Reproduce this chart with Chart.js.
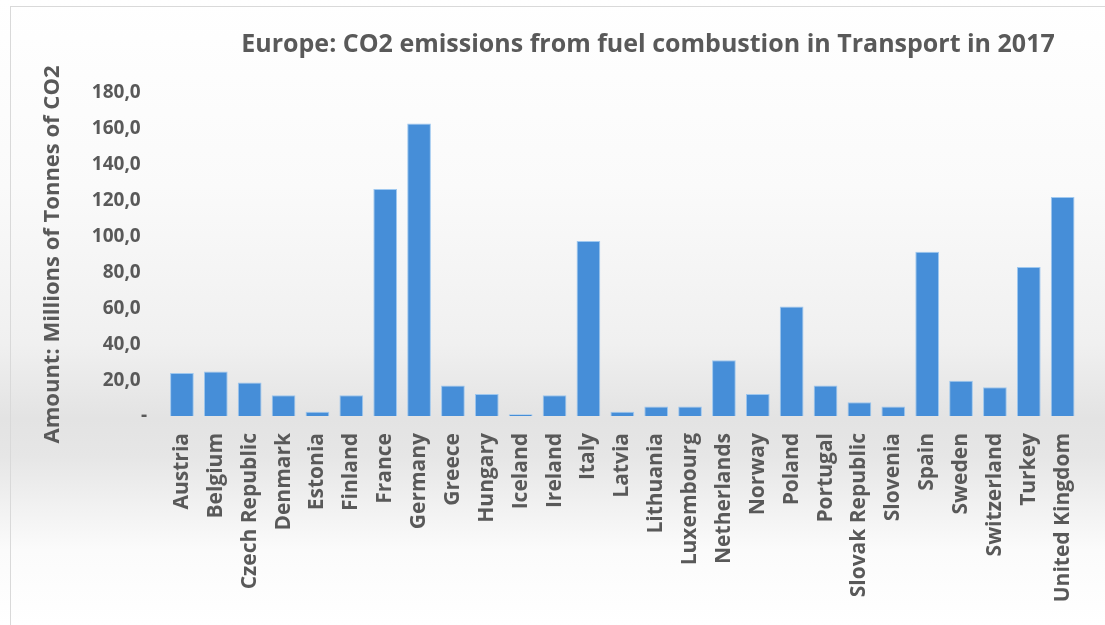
<!DOCTYPE html>
<html>
<head>
<meta charset="utf-8">
<title>Europe: CO2 emissions from fuel combustion in Transport in 2017</title>
<script src="https://cdn.jsdelivr.net/npm/chart.js@4/dist/chart.umd.min.js"></script>
<style>
  html, body { margin: 0; padding: 0; background: #ffffff; }
  #wrap { width: 1105px; height: 625px; position: relative; }
</style>
</head>
<body>
<div id="wrap"><canvas id="co2Chart" width="1105" height="625"></canvas></div>
<script>
const countries = [
    'Austria', 'Belgium', 'Czech Republic', 'Denmark', 'Estonia', 'Finland', 'France',
    'Germany', 'Greece', 'Hungary', 'Iceland', 'Ireland', 'Italy', 'Latvia', 'Lithuania',
    'Luxembourg', 'Netherlands', 'Norway', 'Poland', 'Portugal', 'Slovak Republic',
    'Slovenia', 'Spain', 'Sweden', 'Switzerland', 'Turkey', 'United Kingdom'
];
// Mt CO2 from transport, 2017
const emissions = [
    24.0, 24.8, 18.6, 11.6, 2.4, 11.6, 126.5,
    163.0, 17.0, 12.3, 1.0, 11.6, 97.5, 2.4, 5.3,
    5.3, 31.0, 12.3, 61.0, 17.0, 7.6,
    5.3, 91.5, 19.6, 16.0, 83.0, 122.0
];
const yTicks = [0, 20, 40, 60, 80, 100, 120, 140, 160, 180];

const chartTitle = 'Europe: CO2 emissions from fuel combustion in Transport in 2017';
const yTitle = 'Amount: Millions of Tonnes of CO2';
const textColor = '#595959';
const fontFamily = '"Open Sans", "DejaVu Sans", sans-serif';

// grey fade behind the plot + thin frame + title
const backdrop = {
    id: 'backdrop',
    beforeDraw(chart) {
        const ctx = chart.ctx;
        const h = chart.height;
        const g = ctx.createLinearGradient(0, 0, 0, h);
        g.addColorStop(0, '#ffffff');
        g.addColorStop(0.30, '#fafafa');
        g.addColorStop(0.55, '#f0f0f0');
        g.addColorStop(0.67, '#e3e3e3');
        g.addColorStop(0.73, '#e6e6e6');
        g.addColorStop(0.88, '#fbfbfb');
        g.addColorStop(1, '#ffffff');
        ctx.save();
        ctx.fillStyle = g;
        ctx.fillRect(0, 0, chart.width, h);
        ctx.strokeStyle = '#d9d9d9';
        ctx.lineWidth = 1;
        ctx.strokeRect(10.5, 6.5, chart.width + 20, h + 20);
        ctx.restore();
    },
    afterDraw(chart) {
        const ctx = chart.ctx;
        ctx.save();
        ctx.font = 'bold 25px ' + fontFamily;
        ctx.fillStyle = textColor;
        ctx.textAlign = 'center';
        ctx.textBaseline = 'middle';
        ctx.fillText(chartTitle, 648, 45);
        ctx.restore();
    }
};

const ctx = document.getElementById('co2Chart').getContext('2d');
new Chart(ctx, {
    type: 'bar',
    data: {
        labels: countries,
        datasets: [{
            label: yTitle,
            data: emissions,
            backgroundColor: 'rgb(70, 142, 216)',
            borderColor: 'rgba(150, 195, 238, 0.9)',
            borderWidth: 1,
            categoryPercentage: 1.0,
            barPercentage: 0.7
        }]
    },
    options: {
        responsive: false,
        animation: false,
        layout: { padding: { top: 93, right: 8, left: 0, bottom: 0 } },
        plugins: {
            legend: { display: false },
            tooltip: { enabled: false },
            title: { display: false }
        },
        scales: {
            x: {
                grid: { display: false, drawTicks: false },
                border: { display: false },
                ticks: {
                    color: textColor,
                    font: { family: fontFamily, size: 21, weight: 'bold' },
                    minRotation: 90,
                    maxRotation: 90,
                    autoSkip: false,
                    padding: 17
                },
                afterFit(scale) { scale.height = 625 - 416; }
            },
            y: {
                min: 0,
                max: 180,
                grid: { display: false, drawTicks: false },
                border: { display: false },
                afterBuildTicks(scale) {
                    scale.ticks = yTicks.map(v => ({ value: v }));
                },
                ticks: {
                    color: textColor,
                    font: { family: fontFamily, size: 19, weight: 'bold' },
                    padding: 18,
                    callback: v => v === 0 ? '-' : v.toFixed(1).replace('.', ',') + '\u2009\u2009'
                },
                title: {
                    display: true,
                    text: yTitle,
                    color: textColor,
                    font: { family: fontFamily, size: 22, weight: 'bold' },
                    padding: { top: 40, bottom: 0 }
                },
                afterFit(scale) { scale.width = 165; }
            }
        }
    },
    plugins: [backdrop]
});
</script>
</body>
</html>
